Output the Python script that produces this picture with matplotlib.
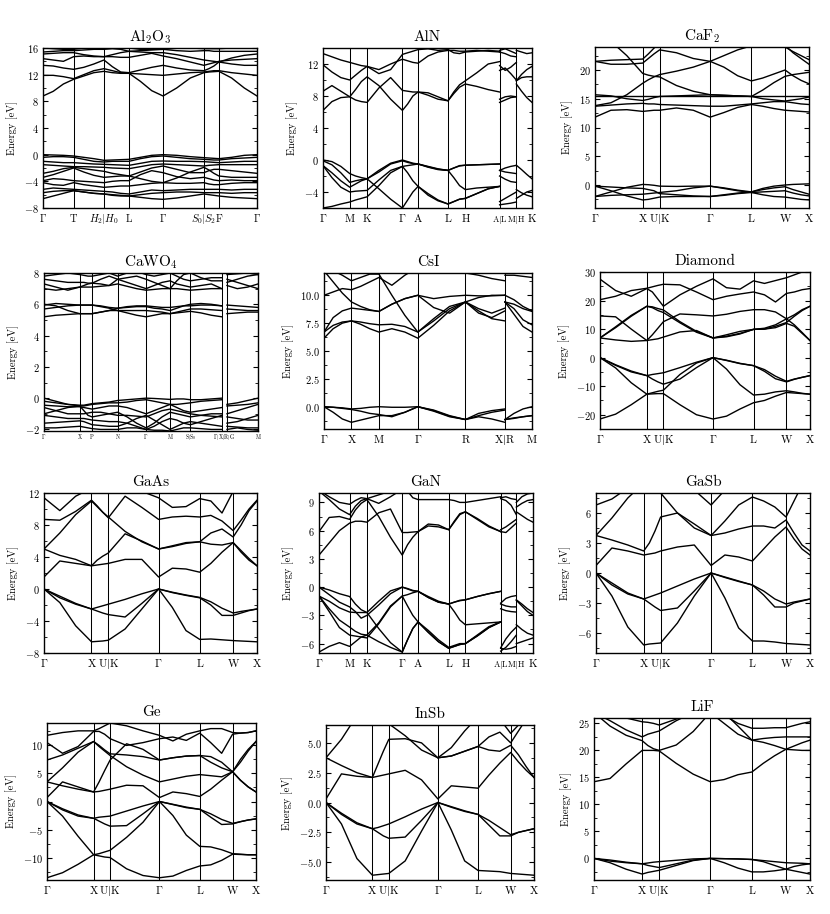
#!/usr/bin/env python
# Band structures of twelve materials, 4 x 3 grid of panels.
import numpy as np
import matplotlib
matplotlib.use("Agg")
import matplotlib.pyplot as plt
from matplotlib.ticker import AutoMinorLocator

plt.rcParams.update({
    "font.family": "serif",
    "font.serif": ["cmr10"],
    "mathtext.fontset": "cm",
    "axes.formatter.use_mathtext": True,
    "axes.linewidth": 1.0,
})

NAN = np.nan
G = r"$\Gamma$"
BAR = r"$|$"

# ---- k-paths: high-symmetry positions (fraction of path) and labels ----
FCC_POS = [0.0, 0.223, 0.302, 0.538, 0.731, 0.888, 1.0]
FCC_LABELS = [G, "X", "U" + BAR + "K", G, "L", "W", "X"]

HEX_POS = [0.0, 0.128, 0.211, 0.380, 0.455, 0.598, 0.681, 0.845]
HEX_POS_LM = [0.845, 0.925]
HEX_POS_HK = [0.925, 1.0]
HEX_LABELS = [G, "M", "K", G, "A", "L", "H", "A" + BAR + "L", "M" + BAR + "H", "K"]
GAN_POS = [0.0, 0.143, 0.224, 0.389, 0.463, 0.606, 0.684, 0.849]
GAN_POS_LM = [0.849, 0.922]
GAN_POS_HK = [0.922, 1.0]

AL2O3_POS = [0.0, 0.143, 0.285, 0.402, 0.561, 0.752, 0.822, 1.0]
AL2O3_LABELS = [G, "T", r"$H_2|H_0$", "L", G, r"$S_0|S_2$", "F", G]

CAWO4_POS = [0.0, 0.167, 0.225, 0.344, 0.477, 0.589, 0.684, 0.831]
CAWO4_POS_B = [0.855, 1.0]
CAWO4_TICKS = [0.0, 0.167, 0.225, 0.344, 0.477, 0.589, 0.684, 0.843, 1.0]
CAWO4_LABELS = [G, "X", "P", "N", G, "M", r"S$|$S$_0$", r"$\Gamma|$X$|$R$|$G", "M"]

CSI_POS = [0.0, 0.132, 0.264, 0.451, 0.680, 0.870]
CSI_POS_B = [0.870, 1.0]
CSI_LABELS = [G, "X", "M", G, "R", "X" + BAR + "R", "M"]

# ---- band energies (eV) at each high-symmetry point and the two third-points
# of every segment in between ----
AL2O3_BANDS = [
    [8.8, 9.5, 10.6, 11.3, 11.8, 12.3, 12.5, 12.3, 12.2, 12.2, 11.0, 9.6, 8.8, 10.0, 11.5, 12.3, 12.4, 12.45, 12.5, 11.5, 10.0, 8.8],
    [11.9, 11.9, 11.7, 11.4, 12.0, 12.6, 12.9, 12.6, 12.3, 12.2, 12.1, 12.0, 11.9, 12.1, 12.3, 12.4, 12.5, 12.6, 12.6, 12.3, 12.1, 11.9],
    [13.4, 13.3, 13.0, 12.8, 13.1, 13.6, 14.2, 13.2, 12.4, 12.3, 12.7, 13.1, 13.4, 13.0, 12.7, 12.6, 12.9, 13.3, 13.9, 13.6, 13.4, 13.4],
    [14.4, 14.2, 14.0, 14.7, 14.8, 14.7, 14.7, 14.7, 14.6, 14.6, 14.9, 15.2, 14.8, 14.4, 13.9, 13.4, 13.6, 13.8, 14.0, 14.2, 14.3, 14.4],
    [15.1, 15.2, 15.3, 15.3, 15.0, 14.8, 14.7, 15.0, 15.3, 15.5, 15.4, 15.3, 15.3, 15.0, 14.6, 14.2, 14.1, 14.0, 13.9, 14.5, 14.9, 15.1],
    [15.4, 15.5, 15.6, 15.6, 15.7, 15.8, 15.8, 15.9, 15.8, 15.5, 15.6, 15.7, 15.8, 15.6, 15.5, 15.6, 15.6, 15.5, 15.5, 15.5, 15.5, 15.5],
    [16.0, 15.9, 15.8, 15.8, 16.0, 16.1, 16.0, 16.0, 16.0, 16.0, 15.8, 15.8, 15.8, 16.0, 16.0, 15.9, 15.9, 15.9, 15.9, 16.0, 16.0, 16.0],
    [0.0, -0.05, -0.1, -0.2, -0.4, -0.6, -0.85, -0.8, -0.75, -0.7, -0.4, -0.1, 0.0, -0.1, -0.3, -0.45, -0.5, -0.55, -0.6, -0.4, -0.1, 0.0],
    [-0.4, -0.3, -0.3, -0.4, -0.7, -1.0, -1.1, -1.0, -1.0, -1.0, -0.6, -0.3, -0.2, -0.4, -0.6, -0.7, -0.75, -0.8, -0.8, -0.6, -0.5, -0.4],
    [-1.0, -1.1, -1.2, -1.2, -1.3, -1.4, -1.45, -1.5, -1.55, -1.6, -1.3, -1.0, -0.95, -1.0, -1.0, -1.05, -1.1, -1.15, -1.2, -1.1, -1.0, -1.0],
    [-1.5, -1.6, -1.7, -1.8, -1.8, -1.85, -1.9, -2.0, -2.05, -2.1, -1.8, -1.5, -1.4, -1.5, -1.6, -1.7, -1.6, -1.55, -1.5, -1.5, -1.5, -1.5],
    [-2.8, -2.5, -2.1, -1.9, -2.1, -2.3, -2.5, -2.8, -3.0, -3.2, -2.6, -2.0, -1.7, -2.2, -2.7, -2.7, -2.4, -2.2, -2.2, -2.4, -2.6, -2.8],
    [-3.4, -3.0, -2.5, -2.0, -2.6, -3.1, -3.4, -3.3, -3.2, -3.2, -3.6, -4.0, -4.2, -3.5, -2.6, -1.9, -2.3, -2.8, -3.2, -3.4, -3.4, -3.4],
    [-3.9, -3.6, -3.7, -3.9, -4.0, -4.1, -4.2, -4.0, -3.9, -3.9, -3.0, -2.4, -2.7, -3.3, -3.6, -3.4, -3.6, -3.8, -3.9, -3.8, -3.9, -3.9],
    [-4.2, -4.5, -4.6, -4.2, -4.5, -4.7, -4.9, -4.8, -4.7, -4.7, -4.5, -4.3, -4.2, -4.3, -4.3, -4.2, -4.4, -4.5, -4.5, -4.3, -4.2, -4.2],
    [-5.2, -5.0, -5.1, -5.2, -5.3, -5.4, -5.5, -5.6, -5.8, -5.9, -5.6, -5.3, -5.4, -5.3, -5.2, -5.2, -5.2, -5.2, -5.2, -5.3, -5.2, -5.2],
    [-5.7, -5.5, -5.4, -5.4, -5.6, -5.8, -5.9, -6.1, -6.2, -6.2, -6.0, -5.8, -5.7, -5.6, -5.6, -5.7, -5.7, -5.7, -5.7, -5.8, -5.7, -5.7],
    [-6.6, -6.2, -5.8, -5.4, -5.6, -5.8, -5.9, -6.0, -6.1, -6.2, -6.4, -6.6, -6.7, -6.5, -6.2, -5.9, -6.0, -6.1, -6.2, -6.4, -6.5, -6.6],
]

ALN_BANDS = [
    [0.0, -0.2, -0.8, -1.7, -2.0, -2.2, -2.35, -1.3, -0.4, 0.0, -0.2, -0.4, -0.5, -0.8, -1.1, -1.3, -1.0, -0.75, -0.65, -0.6, -0.55, -0.5],
    [-0.1, -0.6, -1.6, -2.8, -2.6, -2.45, -2.35, -1.5, -0.5, -0.1, -0.3, -0.45, -0.5, -0.85, -1.15, -1.3, -2.2, -3.2, -3.7, -3.5, -3.4, -3.3],
    [-0.7, -1.6, -2.6, -3.4, -3.0, -2.6, -2.35, -3.6, -4.9, -6.0, -5.0, -4.0, -3.3, -4.2, -5.0, -5.5, -5.2, -4.9, -4.8, -4.2, -3.6, -3.3],
    [-0.7, -2.2, -3.4, -4.0, -3.9, -3.85, -3.8, -2.5, -1.3, -0.8, -0.7, -0.6, -0.5, -0.9, -1.2, -1.3, -1.0, -0.7, -0.65, -0.6, -0.55, -0.5],
    [-6.0, -5.8, -5.5, -5.25, -5.0, -4.8, -4.6, -3.2, -1.6, -0.8, -1.6, -2.6, -3.3, -4.4, -5.1, -5.5, -5.2, -4.9, -4.8, -4.2, -3.6, -3.3],
    [6.2, 7.3, 7.8, 7.9, 7.5, 7.3, 7.2, 9.0, 10.3, 8.7, 8.6, 8.5, 8.5, 8.1, 7.6, 7.4, 8.3, 9.1, 9.5, 9.2, 8.8, 8.5],
    [8.6, 9.3, 8.6, 7.9, 8.8, 9.8, 10.4, 9.3, 7.6, 6.2, 7.0, 8.0, 8.5, 8.4, 7.9, 7.4, 8.5, 9.4, 9.9, 10.9, 12.0, 12.3],
    [11.9, 11.0, 10.3, 10.0, 10.6, 11.2, 11.7, 11.3, 12.0, 12.6, 12.4, 12.2, 12.1, 13.0, 13.5, 13.7, 13.7, 13.6, 13.6, 13.7, 13.6, 13.5],
    [13.3, 12.9, 12.5, 12.2, 12.0, 11.8, 11.7, 10.8, 11.3, 13.2, 13.4, 13.6, 13.8, 13.9, 13.7, 13.8, 13.4, 13.3, 13.5, 13.6, 13.7, 13.6],
]
ALN_BANDS_LM = [
    [-1.3, -1.0, -0.8, -0.67], [-1.3, -1.5, -1.6, -1.7], [-2.0, -2.4, -2.7, -2.8],
    [-5.2, -4.8, -4.4, -4.0], [-5.6, -5.5, -5.4, -5.25],
    [7.2, 7.5, 7.8, 7.9], [7.6, 7.9, 8.0, 7.9], [11.2, 11.5, 10.8, 10.0],
    [11.8, 11.2, 11.6, 12.2], [13.5, 13.3, 13.0, 12.9], [13.7, 13.9, 13.6, 13.3],
]
ALN_BANDS_HK = [
    [-0.65, -1.2, -1.8, -2.35], [-3.7, -4.1, -4.4, -4.6], [-4.8, -4.4, -4.0, -3.8],
    [9.5, 8.6, 7.8, 7.2], [9.9, 10.3, 10.4, 10.4], [9.9, 10.7, 11.3, 11.7], [13.7, 13.5, 13.3, 13.4],
]

CAF2_BANDS = [
    [-0.2, -1.0, -1.9, -2.6, -2.5, -2.3, -2.1, -2.0, -2.0, -2.0, -1.8, -1.5, -1.3, -1.7, -2.0, -2.1, -2.3, -2.5, -2.6],
    [-2.0, -1.2, -0.4, 0.1, 0.05, -0.05, -0.2, -0.25, -0.2, -0.2, -0.5, -0.9, -1.2, -0.6, -0.2, 0.0, 0.1, 0.15, 0.2],
    [-2.0, -1.8, -1.7, -1.6, -1.5, -1.4, -1.3, -1.0, -0.5, -0.2, -0.6, -1.0, -1.3, -1.2, -1.1, -1.0, -1.4, -1.7, -1.9],
    [-0.2, -0.35, -0.5, -0.6, -0.8, -1.0, -1.5, -1.7, -1.9, -2.0, -1.7, -1.4, -1.2, -0.8, -0.5, -0.3, -0.8, -1.2, -1.6],
    [11.8, 13.0, 13.1, 12.8, 12.9, 13.0, 13.0, 13.4, 13.0, 11.8, 12.6, 13.5, 14.0, 13.7, 13.3, 13.0, 12.9, 12.8, 12.7],
    [13.7, 13.9, 14.1, 14.2, 14.1, 14.1, 14.0, 13.9, 13.8, 13.7, 13.7, 13.9, 14.1, 14.3, 14.5, 14.5, 14.3, 14.1, 14.0],
    [15.4, 15.4, 15.4, 15.4, 15.4, 15.4, 15.4, 15.4, 15.4, 15.4, 15.4, 15.4, 15.4, 15.4, 15.4, 15.4, 15.4, 15.4, 15.4],
    [15.7, 15.5, 15.0, 14.7, 14.9, 15.2, 15.4, 15.5, 15.6, 15.7, 15.6, 15.5, 15.4, 15.0, 14.8, 14.6, 14.8, 15.0, 15.3],
    [13.8, 14.3, 15.7, 17.7, 18.3, 18.8, 19.2, 19.8, 20.5, 21.5, 20.5, 19.0, 18.1, 18.6, 19.3, 20.0, 19.0, 18.2, 17.6],
    [26.0, 25.0, 22.5, 19.4, 19.1, 18.9, 18.8, 17.3, 16.3, 15.7, 15.6, 15.5, 15.4, 16.5, 17.8, 18.9, 19.2, 19.4, 19.6],
    [21.5, 21.7, 21.8, 21.9, 22.8, 23.8, 24.8, 25.0, 25.0, 25.0, 25.0, 25.0, 25.0, 25.0, 24.5, 24.0, 23.2, 22.5, 21.8],
    [21.5, 21.0, 21.0, 21.2, 22.0, 22.8, 23.5, 23.0, 22.0, 21.5, 22.5, 23.5, 24.2, 24.5, 24.5, 24.3, 23.0, 22.0, 21.0],
]

CAWO4_BANDS = [
    [0.0, -0.2, -0.4, -0.45, -0.45, -0.4, -0.35, -0.3, -0.25, -0.15, -0.1, -0.05, 0.0, -0.02, -0.05, -0.08, -0.05, -0.05, -0.1, -0.1, -0.05, 0.0],
    [-0.2, -0.3, -0.4, -0.5, -0.5, -0.45, -0.4, -0.35, -0.3, -0.3, -0.25, -0.15, -0.1, -0.2, -0.3, -0.4, -0.4, -0.35, -0.3, -0.2, -0.15, -0.1],
    [-0.45, -0.5, -0.55, -0.55, -0.6, -0.65, -0.7, -0.6, -0.5, -0.5, -0.6, -0.8, -1.0, -0.8, -0.6, -0.4, -0.6, -0.8, -0.9, -0.8, -0.7, -0.6],
    [-0.6, -0.8, -1.0, -1.0, -1.0, -0.95, -0.9, -0.9, -1.0, -1.1, -1.1, -1.15, -1.2, -1.0, -0.8, -0.7, -0.8, -0.9, -1.0, -1.1, -1.15, -1.2],
    [-1.0, -0.8, -0.6, -0.5, -0.8, -1.1, -1.2, -1.1, -1.0, -0.9, -1.2, -1.6, -1.9, -1.6, -1.2, -0.9, -1.0, -1.1, -1.2, -1.1, -1.0, -1.0],
    [-1.1, -1.2, -1.3, -1.3, -1.3, -1.35, -1.4, -1.45, -1.5, -1.5, -1.6, -1.8, -2.0, -1.8, -1.5, -1.3, -1.4, -1.6, -1.7, -1.5, -1.3, -1.1],
    [-1.6, -1.55, -1.5, -1.45, -1.5, -1.6, -1.7, -1.75, -1.8, -1.8, -1.6, -1.3, -1.1, -1.4, -1.7, -2.0, -1.8, -1.6, -1.5, -1.6, -1.7, -1.8],
    [-1.9, -1.9, -1.85, -1.8, -1.85, -1.9, -1.95, -2.0, -2.0, -2.0, -1.9, -1.9, -2.0, -2.05, -2.05, -2.1, -2.0, -1.9, -1.9, -1.95, -2.0, -2.0],
    [5.2, 5.3, 5.35, 5.4, 5.4, 5.4, 5.4, 5.5, 5.6, 5.6, 5.45, 5.3, 5.2, 5.3, 5.4, 5.4, 5.45, 5.5, 5.55, 5.45, 5.3, 5.2],
    [5.7, 5.8, 5.9, 5.95, 5.95, 5.95, 5.95, 5.85, 5.75, 5.6, 5.6, 5.6, 5.6, 5.55, 5.5, 5.4, 5.5, 5.6, 5.7, 5.7, 5.65, 5.6],
    [5.95, 6.05, 6.0, 5.95, 5.95, 5.95, 5.95, 5.9, 5.8, 5.75, 5.8, 5.85, 5.85, 5.75, 5.7, 5.6, 5.75, 5.9, 6.0, 6.05, 6.0, 5.9],
    [6.0, 5.9, 5.6, 5.4, 5.4, 5.4, 5.4, 5.5, 5.6, 5.75, 5.85, 5.9, 5.9, 5.85, 5.8, 5.8, 5.85, 5.9, 5.9, 5.95, 5.95, 5.9],
    [7.0, 6.9, 7.0, 7.1, 7.1, 7.1, 7.1, 7.15, 7.2, 7.3, 7.15, 7.0, 6.9, 6.95, 7.0, 7.0, 7.0, 6.95, 6.9, 6.95, 7.0, 7.0],
    [7.3, 7.1, 6.9, 7.1, 7.2, 7.3, 7.35, 7.3, 7.2, 7.6, 7.4, 7.2, 7.0, 7.2, 7.4, 7.5, 7.3, 7.2, 7.1, 7.2, 7.3, 7.0],
    [7.6, 7.5, 7.4, 7.4, 7.4, 7.35, 7.35, 7.6, 7.8, 7.6, 7.7, 7.8, 7.6, 7.4, 7.2, 7.0, 7.5, 7.9, 8.0, 7.7, 7.5, 7.5],
    [7.8, 7.9, 8.0, 7.9, 7.85, 7.8, 7.8, 7.9, 8.0, 7.8, 8.0, 8.1, 7.9, 7.8, 7.9, 8.0, 7.8, 7.6, 7.5, 7.6, 7.7, 7.7],
]
CAWO4_BANDS_B = [
    [-0.4, -0.3, -0.15, 0.0], [-0.5, -0.45, -0.4, -0.3], [-1.0, -0.8, -0.6, -0.4],
    [-1.2, -1.3, -1.4, -1.4], [-1.6, -1.5, -1.3, -1.1], [-1.8, -1.85, -1.9, -1.9], [-2.0, -1.9, -2.0, -2.05],
    [5.4, 5.45, 5.5, 5.5], [5.7, 5.65, 5.6, 5.6], [5.95, 5.9, 5.85, 5.8],
    [7.2, 7.0, 7.1, 7.3], [7.4, 7.6, 7.8, 7.9], [7.6, 7.4, 7.2, 7.0], [7.9, 7.95, 8.0, 7.9],
]

CSI_BANDS = [
    [0.0, -0.05, -0.1, -0.2, -0.15, -0.05, 0.0, -0.05, -0.05, 0.0, -0.3, -0.8, -1.15, -0.6, -0.35, -0.2],
    [0.0, -0.5, -1.1, -1.4, -1.2, -1.0, -0.8, -0.8, -0.5, 0.0, -0.4, -0.9, -1.15, -0.9, -1.1, -1.4],
    [0.0, -0.05, -0.15, -0.25, -0.4, -0.6, -0.7, -0.9, -0.5, 0.0, -0.35, -0.85, -1.15, -0.8, -0.5, -0.3],
    [6.15, 7.0, 7.5, 7.7, 7.4, 7.0, 6.7, 7.0, 6.7, 6.15, 7.3, 8.6, 9.4, 8.6, 7.9, 7.7],
    [6.7, 7.3, 7.6, 7.7, 7.6, 7.45, 7.35, 7.4, 7.2, 6.7, 7.7, 8.8, 9.4, 8.4, 8.0, 8.6],
    [6.7, 8.0, 8.6, 8.85, 8.75, 8.65, 8.55, 9.2, 9.7, 10.0, 8.9, 8.4, 9.4, 8.8, 8.4, 8.85],
    [10.0, 10.3, 10.6, 10.5, 10.8, 11.2, 11.6, 10.9, 11.8, 12.5, 12.4, 12.2, 12.0, 11.8, 11.5, 11.3],
    [12.2, 11.2, 10.2, 9.4, 9.0, 8.7, 8.55, 9.2, 9.7, 10.0, 9.7, 9.9, 10.0, 9.95, 9.95, 10.0],
    [12.5, 12.2, 11.8, 11.3, 11.6, 11.9, 11.9, 10.0, 8.2, 6.7, 7.9, 9.0, 9.4, 9.8, 10.0, 10.0],
]
CSI_BANDS_B = [
    [-1.15, -0.6, -0.2, 0.0], [-1.15, -1.0, -0.9, -0.8], [-1.15, -1.05, -0.9, -0.8],
    [9.4, 8.3, 7.2, 6.7], [9.4, 8.8, 7.8, 7.35], [9.4, 9.2, 8.8, 8.55], [10.0, 9.6, 9.0, 8.6],
    [11.8, 11.8, 11.7, 11.6],
]

DIAMOND_BANDS = [
    [-21.5, -19.8, -16.5, -12.8, -12.7, -12.6, -12.6, -16.5, -20.0, -21.5, -20.5, -18.0, -15.8, -15.0, -13.5, -12.2, -12.4, -12.6, -12.8],
    [0.0, -3.6, -8.8, -12.8, -12.3, -11.8, -11.4, -5.9, -1.9, 0.0, -4.0, -9.5, -13.1, -12.8, -12.0, -11.6, -12.0, -12.5, -12.8],
    [0.0, -2.5, -4.7, -6.3, -5.9, -5.6, -5.3, -3.5, -1.6, 0.0, -0.9, -2.0, -2.8, -4.2, -6.5, -8.3, -7.5, -6.9, -6.3],
    [0.0, -2.7, -5.0, -6.3, -7.5, -8.5, -9.3, -7.5, -3.5, 0.0, -1.0, -2.1, -2.8, -4.8, -7.4, -8.5, -7.6, -6.9, -6.3],
    [6.9, 6.2, 5.7, 6.0, 6.3, 6.6, 7.2, 9.0, 9.5, 6.9, 8.0, 9.2, 9.9, 10.0, 10.5, 12.0, 11.0, 8.5, 6.0],
    [6.9, 10.5, 14.5, 18.0, 17.8, 17.2, 16.7, 12.6, 9.2, 6.9, 7.5, 8.5, 9.9, 10.0, 11.0, 12.3, 14.5, 16.5, 18.0],
    [6.9, 10.8, 14.8, 18.0, 17.5, 16.5, 15.8, 12.2, 8.9, 6.9, 7.3, 8.3, 9.9, 10.3, 11.5, 13.6, 15.0, 16.8, 18.0],
    [14.6, 14.3, 10.0, 6.0, 8.0, 10.3, 12.6, 15.3, 15.0, 14.6, 15.2, 16.2, 16.8, 16.8, 16.0, 13.6, 11.5, 8.8, 6.0],
    [20.3, 21.5, 23.5, 24.3, 24.8, 25.3, 25.7, 25.5, 23.0, 20.3, 21.5, 22.3, 23.0, 22.0, 19.5, 22.5, 23.0, 23.8, 24.2],
    [27.5, 23.5, 21.5, 24.2, 23.0, 20.5, 18.0, 22.0, 25.0, 27.6, 24.5, 24.0, 26.9, 26.0, 27.0, 28.0, 29.0, 30.0, 31.0],
]

GAAS_BANDS = [
    [0.0, -1.7, -4.6, -6.6, -6.55, -6.5, -6.4, -5.0, -2.5, 0.0, -2.3, -5.2, -6.3, -6.25, -6.35, -6.45, -6.5, -6.55, -6.6],
    [0.0, -0.9, -1.8, -2.5, -2.3, -2.1, -1.9, -1.3, -0.6, 0.0, -0.4, -0.75, -1.05, -1.6, -2.4, -3.0, -2.8, -2.65, -2.5],
    [0.0, -1.1, -1.9, -2.5, -2.75, -3.0, -3.2, -3.5, -1.8, 0.0, -0.45, -0.8, -1.1, -2.0, -3.3, -3.3, -3.0, -2.7, -2.5],
    [1.5, 3.5, 3.2, 2.9, 3.0, 3.1, 3.2, 3.7, 3.7, 1.5, 2.6, 2.5, 2.1, 3.2, 4.6, 5.8, 4.6, 3.6, 2.9],
    [5.0, 4.2, 3.7, 2.9, 3.6, 4.1, 4.5, 6.9, 6.0, 5.0, 5.4, 5.8, 5.9, 5.6, 5.5, 5.8, 4.8, 3.8, 2.9],
    [5.0, 7.0, 9.3, 11.0, 10.3, 9.6, 9.0, 7.2, 5.9, 5.0, 5.3, 5.7, 5.9, 7.0, 7.5, 6.5, 8.0, 9.8, 11.0],
    [8.7, 8.6, 9.7, 11.1, 10.4, 9.6, 8.9, 11.6, 10.2, 8.7, 9.0, 9.1, 9.0, 9.2, 8.5, 7.3, 8.6, 10.0, 11.1],
    [11.4, 9.8, 11.6, 12.6, 12.6, 12.6, 12.6, 12.8, 12.2, 11.4, 10.2, 10.3, 11.3, 11.0, 9.5, 12.2, 12.4, 12.3, 12.1],
]

GAN_BANDS = [
    [0.0, -0.3, -0.7, -1.0, -1.8, -2.4, -2.7, -1.5, -0.4, 0.0, -0.15, -0.35, -0.45, -1.0, -1.5, -1.8, -1.6, -1.4, -1.35, -1.0, -0.7, -0.45],
    [0.0, -0.8, -1.6, -2.1, -2.6, -3.3, -3.0, -1.9, -0.7, 0.0, -0.2, -0.4, -0.45, -1.1, -1.6, -1.8, -2.6, -3.5, -4.0, -3.9, -3.8, -3.7],
    [-0.95, -1.5, -2.2, -2.65, -2.7, -2.7, -2.7, -4.4, -5.9, -6.9, -5.6, -4.4, -3.7, -4.8, -5.8, -6.5, -6.3, -6.1, -6.0, -5.2, -4.3, -3.7],
    [-0.95, -2.3, -3.5, -4.25, -4.7, -5.0, -5.1, -3.8, -2.0, -0.95, -0.8, -0.6, -0.45, -1.1, -1.6, -1.8, -1.6, -1.45, -1.35, -1.0, -0.7, -0.45],
    [-0.95, -2.6, -4.3, -5.1, -5.2, -5.3, -5.4, -3.9, -2.1, -0.95, -2.0, -3.0, -3.7, -4.8, -5.8, -6.5, -6.3, -6.1, -6.0, -5.2, -4.3, -3.7],
    [-6.9, -6.3, -5.9, -6.3, -5.8, -5.3, -5.1, -5.8, -6.4, -6.9, -5.6, -4.4, -3.7, -4.6, -5.6, -6.4, -6.2, -6.0, -6.0, -5.1, -4.2, -3.7],
    [3.4, 4.7, 6.0, 6.8, 7.0, 7.0, 6.9, 7.9, 8.3, 5.8, 5.8, 5.85, 5.9, 6.7, 6.6, 6.1, 7.0, 7.8, 8.0, 7.3, 6.5, 5.9],
    [5.9, 7.4, 7.5, 7.2, 8.2, 8.9, 9.3, 7.5, 5.3, 3.4, 4.5, 5.3, 5.9, 6.5, 6.4, 6.1, 6.9, 7.7, 8.0, 7.2, 6.4, 5.9],
    [10.2, 9.3, 8.3, 7.7, 8.6, 9.2, 9.4, 9.8, 10.2, 10.5, 10.2, 9.5, 9.3, 9.3, 9.3, 9.3, 9.2, 9.0, 9.0, 9.2, 9.4, 9.6],
    [10.3, 9.6, 9.0, 8.8, 9.2, 9.5, 9.4, 8.9, 9.6, 10.4, 10.4, 10.1, 10.2, 10.2, 10.1, 10.2, 10.2, 10.2, 10.2, 10.1, 10.2, 10.0],
]
GAN_BANDS_LM = [
    [-1.7, -1.2, -1.0, -0.9], [-1.8, -2.0, -2.1, -2.1], [-2.3, -2.5, -2.6, -2.65],
    [-6.45, -5.5, -4.8, -4.25], [-6.5, -6.6, -6.5, -6.3], [-6.8, -6.4, -5.8, -5.1],
    [5.9, 5.8, 6.3, 6.8], [6.1, 6.4, 6.8, 7.2], [9.4, 9.2, 8.7, 7.7], [9.5, 9.6, 9.4, 9.3],
]
GAN_BANDS_HK = [
    [-1.35, -1.8, -2.3, -2.7], [-1.4, -2.0, -2.6, -3.0], [-4.0, -4.5, -4.9, -5.1], [-6.0, -5.8, -5.6, -5.4],
    [8.0, 7.6, 7.2, 6.9], [8.5, 8.9, 9.2, 9.3], [9.0, 9.6, 9.9, 10.0],
]

GASB_BANDS = [
    [0.0, -2.3, -5.4, -7.2, -7.1, -7.05, -7.0, -5.0, -2.3, 0.0, -2.5, -5.5, -6.8, -6.8, -6.9, -7.05, -7.1, -7.15, -7.2],
    [0.0, -1.0, -2.0, -2.6, -2.4, -2.2, -2.0, -1.3, -0.6, 0.0, -0.4, -0.8, -1.2, -1.8, -2.6, -3.1, -2.9, -2.75, -2.6],
    [0.0, -1.2, -2.1, -2.6, -3.0, -3.4, -3.75, -3.5, -1.8, 0.0, -0.45, -0.85, -1.2, -2.2, -3.4, -3.4, -3.0, -2.8, -2.6],
    [0.75, 2.5, 2.2, 1.8, 1.9, 2.0, 2.2, 2.6, 2.8, 0.75, 1.8, 1.6, 1.2, 2.4, 3.6, 4.6, 3.4, 2.4, 1.8],
    [3.75, 3.3, 2.8, 2.2, 3.0, 4.2, 5.6, 6.0, 4.9, 3.75, 4.0, 4.4, 4.7, 4.7, 4.5, 5.3, 4.0, 2.8, 2.2],
    [3.75, 5.5, 7.5, 9.0, 8.6, 8.3, 8.0, 6.0, 4.5, 3.75, 5.2, 6.8, 7.6, 7.2, 6.6, 5.6, 7.2, 8.8, 9.5],
    [6.8, 7.4, 8.5, 9.5, 9.5, 9.5, 9.5, 9.0, 8.3, 6.8, 8.3, 9.0, 9.0, 9.0, 9.0, 9.0, 9.0, 9.0, 9.0],
]

GE_BANDS = [
    [-13.6, -12.7, -11.2, -9.5, -9.7, -9.9, -10.0, -12.0, -13.2, -13.6, -13.3, -12.3, -11.5, -11.3, -10.5, -9.4, -9.45, -9.5, -9.5],
    [0.0, -2.6, -6.2, -9.5, -9.3, -9.0, -8.7, -6.4, -3.7, 0.0, -2.5, -6.0, -8.0, -8.1, -8.6, -9.3, -9.4, -9.5, -9.5],
    [0.0, -1.3, -2.4, -3.0, -2.8, -2.7, -2.6, -1.7, -0.8, 0.0, -0.5, -1.0, -1.4, -2.2, -3.2, -3.9, -3.6, -3.3, -3.1],
    [0.0, -1.5, -2.6, -3.0, -3.5, -4.0, -4.4, -4.3, -2.2, 0.0, -0.55, -1.1, -1.4, -2.8, -4.1, -4.0, -3.6, -3.3, -3.1],
    [0.7, 3.5, 2.6, 1.7, 1.8, 2.0, 2.2, 2.9, 2.8, 0.7, 1.7, 1.4, 0.9, 2.2, 3.8, 5.3, 3.8, 2.6, 1.7],
    [3.5, 2.8, 2.2, 1.7, 3.5, 5.5, 7.4, 10.3, 9.3, 7.4, 7.8, 8.1, 8.2, 7.0, 6.0, 5.3, 7.0, 9.0, 10.7],
    [3.5, 6.0, 8.8, 10.7, 9.8, 9.0, 8.2, 6.2, 4.7, 3.5, 4.0, 4.5, 4.8, 4.6, 4.4, 5.3, 3.8, 2.6, 1.7],
    [7.4, 8.3, 9.5, 10.7, 10.0, 9.2, 8.5, 8.3, 8.0, 7.4, 7.8, 8.1, 8.2, 8.0, 7.0, 5.3, 7.5, 9.3, 10.7],
    [10.5, 8.6, 9.8, 12.5, 12.5, 12.0, 11.2, 10.0, 10.5, 11.2, 11.5, 10.9, 12.2, 10.5, 8.6, 12.0, 12.2, 12.3, 12.6],
    [11.8, 12.3, 12.6, 12.6, 13.0, 13.5, 14.0, 13.5, 12.6, 11.8, 10.8, 12.0, 12.6, 13.0, 13.0, 12.3, 12.2, 12.3, 12.6],
]

INSB_BANDS = [
    [0.0, -1.8, -4.7, -6.1, -6.05, -6.0, -5.95, -4.9, -2.4, 0.0, -2.3, -4.9, -5.7, -5.75, -5.8, -5.95, -6.0, -6.05, -6.1],
    [0.0, -0.9, -1.7, -2.2, -2.1, -1.95, -1.8, -1.2, -0.55, 0.0, -0.35, -0.7, -1.0, -1.5, -2.1, -2.7, -2.5, -2.35, -2.2],
    [0.0, -1.0, -1.8, -2.2, -2.5, -2.8, -3.0, -2.9, -1.5, 0.0, -0.4, -0.75, -1.0, -1.9, -2.8, -2.8, -2.5, -2.35, -2.2],
    [0.3, 2.4, 2.2, 2.1, 2.2, 2.3, 2.4, 2.7, 1.9, 0.3, 1.4, 1.3, 1.2, 2.3, 3.3, 4.2, 3.4, 2.7, 2.1],
    [3.75, 3.1, 2.5, 2.1, 3.2, 4.3, 5.3, 5.35, 5.0, 3.75, 3.9, 4.3, 4.7, 4.4, 4.3, 4.8, 4.0, 3.0, 2.1],
    [3.75, 5.3, 7.3, 8.5, 7.6, 7.0, 6.6, 5.6, 4.4, 3.75, 4.6, 6.0, 7.2, 7.2, 7.0, 5.8, 6.5, 7.0, 7.5],
    [NAN, NAN, NAN, NAN, NAN, NAN, NAN, NAN, NAN, 3.75, 3.9, 4.3, 4.7, 5.5, 5.9, 5.0, 6.0, 7.0, 8.0],
]

LIF_BANDS = [
    [0.0, -0.3, -0.7, -1.0, -0.85, -0.7, -0.6, -0.35, -0.1, 0.0, -0.05, -0.1, -0.2, -0.4, -0.6, -0.8, -0.85, -0.9, -1.0],
    [0.0, -0.8, -2.0, -2.9, -2.6, -2.4, -2.2, -1.3, -0.4, 0.0, -0.8, -1.8, -2.5, -2.5, -2.3, -2.0, -2.3, -2.6, -2.9],
    [0.0, -0.5, -0.8, -1.0, -1.3, -1.5, -1.7, -1.0, -0.3, 0.0, -0.05, -0.1, -0.2, -0.6, -1.3, -2.0, -1.5, -1.2, -1.0],
    [14.2, 14.8, 17.5, 20.0, 20.0, 20.0, 19.9, 17.6, 15.6, 14.2, 14.6, 15.5, 16.0, 17.6, 19.0, 20.2, 20.1, 20.0, 20.0],
    [27.0, 24.5, 22.8, 21.8, 20.9, 20.3, 20.0, 21.0, 23.5, 27.0, 25.0, 23.0, 21.9, 21.5, 20.9, 20.2, 20.8, 21.4, 21.9],
    [27.0, 25.5, 23.8, 22.5, 23.0, 23.3, 23.6, 25.5, 27.0, 28.0, 26.5, 25.0, 24.1, 24.1, 24.2, 24.2, 24.6, 25.0, 25.3],
    [27.0, 26.5, 26.0, 25.3, 25.2, 25.0, 24.7, 25.8, 27.0, 28.0, 27.0, 24.5, 21.9, 22.2, 22.4, 22.5, 22.5, 22.5, 22.5],
]


def knots(pos):
    # high-symmetry points plus the two third-points of each segment
    out = [pos[0]]
    for a, b in zip(pos[:-1], pos[1:]):
        out += [a + (b - a) / 3, a + 2 * (b - a) / 3, b]
    return out


def panel(ax, title, branches, ylim, yticks, ticks, labels, vlines, lfs=8, lpad=10, small=()):
    for pos, bands in branches:
        xs = knots(pos)
        for b in bands:
            assert len(b) == len(xs), (title, len(b), len(xs))
            ax.plot(xs, b, color="black", lw=1.0, solid_joinstyle="round")
    for x in vlines:
        ax.axvline(x, color="black", lw=0.75)
    ax.set_xlim(0, 1)
    ax.set_ylim(*ylim)
    ax.set_xticks(ticks)
    ax.set_xticklabels(labels, fontsize=lfs)
    # baseline alignment so labels with a tall "|" sit on the same line
    for i, t in enumerate(ax.get_xticklabels()):
        t.set_verticalalignment("baseline")
        if i in small:  # crowded pair of labels on the short end segments
            t.set_fontsize(lfs - 1.8)
    ax.set_yticks(yticks)
    ax.yaxis.set_minor_locator(AutoMinorLocator(2))
    ax.tick_params(axis="y", which="both", direction="in", left=True, right=True,
                   labelsize=7.5, pad=3)
    ax.tick_params(axis="y", which="major", length=3.5)
    ax.tick_params(axis="y", which="minor", length=2)
    ax.tick_params(axis="x", length=0, pad=lpad)
    ax.set_title(title, fontsize=11, pad=5)
    ax.set_ylabel("Energy [eV]", fontsize=7.5, labelpad=4)


W, H = 830, 914
fig = plt.figure(figsize=(W / 100, H / 100), dpi=100)


def axes_px(l, r, t, b):
    return fig.add_axes([l / W, 1 - b / H, (r - l) / W, (b - t) / H])


fcc_lines = FCC_POS[1:-1]

ax = axes_px(43, 257, 48, 208)
panel(ax, r"Al$_2$O$_3$", [(AL2O3_POS, AL2O3_BANDS)], (-8, 16), range(-8, 17, 4),
      AL2O3_POS, AL2O3_LABELS, AL2O3_POS[1:-1], lfs=7.5)

ax = axes_px(323, 532, 48, 208)
panel(ax, "AlN", [(HEX_POS, ALN_BANDS), (HEX_POS_LM, ALN_BANDS_LM), (HEX_POS_HK, ALN_BANDS_HK)],
      (-6, 14), range(-4, 14, 4), HEX_POS + [0.925, 1.0], HEX_LABELS, HEX_POS[1:] + [0.925],
      small=(7, 8))

ax = axes_px(595, 809, 47, 208)
panel(ax, r"CaF$_2$", [(FCC_POS, CAF2_BANDS)], (-4, 24), range(0, 21, 5),
      FCC_POS, FCC_LABELS, fcc_lines)

ax = axes_px(44, 258, 273, 431)
panel(ax, r"CaWO$_4$", [(CAWO4_POS, CAWO4_BANDS), (CAWO4_POS_B, CAWO4_BANDS_B)], (-2.1, 8),
      range(-2, 9, 2), CAWO4_TICKS, CAWO4_LABELS, CAWO4_POS[1:] + [0.855], lfs=4, lpad=6)

ax = axes_px(324, 532, 273, 429)
panel(ax, "CsI", [(CSI_POS, CSI_BANDS), (CSI_POS_B, CSI_BANDS_B)], (-2, 12),
      [0, 2.5, 5, 7.5, 10], CSI_POS + [1.0], CSI_LABELS, CSI_POS[1:])

ax = axes_px(600, 810, 272, 429)
panel(ax, "Diamond", [(FCC_POS, DIAMOND_BANDS)], (-25, 30), range(-20, 31, 10),
      FCC_POS, FCC_LABELS, fcc_lines)

ax = axes_px(44, 257, 493, 653)
panel(ax, "GaAs", [(FCC_POS, GAAS_BANDS)], (-8, 12), range(-8, 13, 4),
      FCC_POS, FCC_LABELS, fcc_lines)

ax = axes_px(319, 533, 493, 653)
panel(ax, "GaN", [(GAN_POS, GAN_BANDS), (GAN_POS_LM, GAN_BANDS_LM), (GAN_POS_HK, GAN_BANDS_HK)],
      (-7, 10), range(-6, 10, 3), GAN_POS + [0.922, 1.0], HEX_LABELS, GAN_POS[1:] + [0.922],
      small=(7, 8))

ax = axes_px(596, 810, 493, 653)
panel(ax, "GaSb", [(FCC_POS, GASB_BANDS)], (-8, 8), range(-6, 7, 3),
      FCC_POS, FCC_LABELS, fcc_lines)

ax = axes_px(47, 256, 723, 880)
panel(ax, "Ge", [(FCC_POS, GE_BANDS)], (-14, 14), range(-10, 11, 5),
      FCC_POS, FCC_LABELS, fcc_lines)

ax = axes_px(326, 534, 725, 880)
panel(ax, "InSb", [(FCC_POS, INSB_BANDS)], (-6.5, 6.5), [-5, -2.5, 0, 2.5, 5],
      FCC_POS, FCC_LABELS, fcc_lines)

ax = axes_px(594, 810, 718, 880)
panel(ax, "LiF", [(FCC_POS, LIF_BANDS)], (-4, 26), range(0, 26, 5),
      FCC_POS, FCC_LABELS, fcc_lines)

fig.savefig("out.png", dpi=100)
